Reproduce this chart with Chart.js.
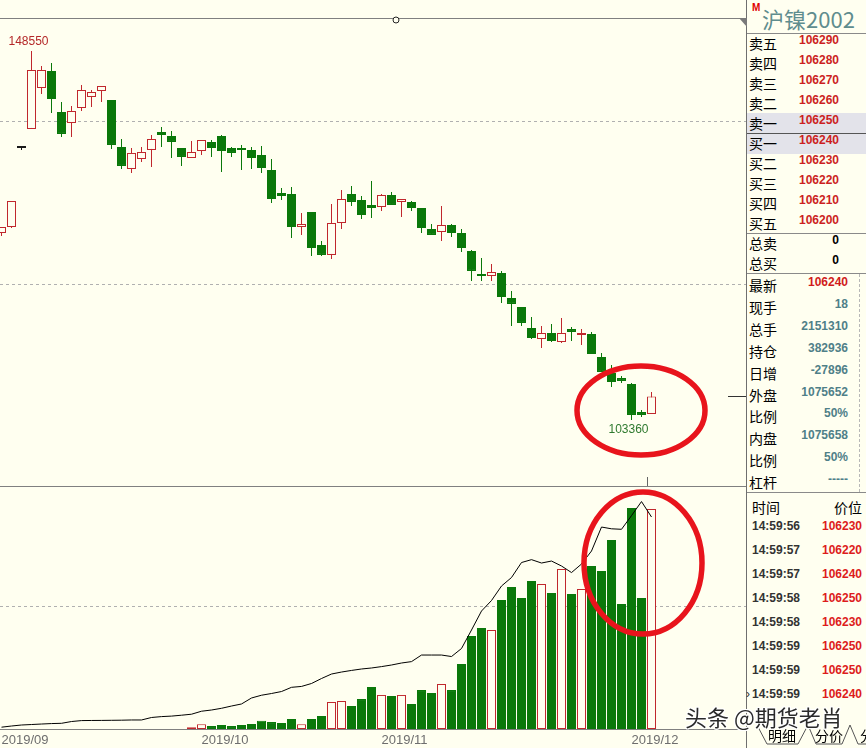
<!DOCTYPE html>
<html><head><meta charset="utf-8">
<script src="https://cdn.jsdelivr.net/npm/chart.js@4.4.1/dist/chart.umd.min.js"></script>
<style>
html,body{margin:0;padding:0;background:#fffff0;width:866px;height:748px;overflow:hidden;position:relative;}
canvas{position:absolute;left:0;}
#c1{top:0;}
#c2{top:487px;}
.t{position:absolute;height:20px;line-height:20px;white-space:nowrap;}
.lab{left:749px;font:14px "Noto Sans CJK SC",sans-serif;color:#000;}
.num{font:bold 12px "Liberation Sans",Arial,sans-serif;text-align:right;}
.hl{position:absolute;left:747px;width:119px;height:1px;background:#8a8a8a;}
#panel{position:absolute;left:746px;top:0;width:1px;height:748px;background:#6f6f6f;}
#wm{position:absolute;left:685px;top:700px;font:22px "Noto Sans CJK SC",sans-serif;color:#2b2b2b;line-height:32px;white-space:nowrap;
 text-shadow:1px 1px 0 #fff,-1px -1px 0 #fff,1px -1px 0 #fff,-1px 1px 0 #fff,0 1px 0 #fff,0 -1px 0 #fff,1px 0 0 #fff,-1px 0 0 #fff;z-index:5;}
svg{position:absolute;left:0;top:0;}
</style></head>
<body>
<canvas id="c1" width="746" height="487"></canvas>
<canvas id="c2" width="746" height="261"></canvas>
<div id="panel"></div>
<div id="side"></div>
<svg width="866" height="748" viewBox="0 0 866 748">
 <circle cx="396" cy="20" r="3" fill="#fffff0" stroke="#222" stroke-width="1"/>
 <polygon points="739,18 747,18 747,27" fill="#7a7a7a"/>
 <line x1="647.5" y1="477" x2="647.5" y2="486" stroke="#666" stroke-width="1"/>
 <ellipse cx="641" cy="410.5" rx="64" ry="44.5" fill="none" stroke="#e8141c" stroke-width="5.5"/>
 <ellipse cx="643" cy="563" rx="59" ry="71" fill="none" stroke="#e8141c" stroke-width="5.5"/>
 <path d="M757,725 L767,744 L798,744 L808,725" fill="none" stroke="#555" stroke-width="1"/>
 <path d="M808,725 L816,744 L842,744 L850,725" fill="none" stroke="#555" stroke-width="1"/>
 <path d="M850,725 L858,744 L880,744" fill="none" stroke="#555" stroke-width="1"/>
 <text x="782" y="741" font-family="Noto Sans CJK SC" font-size="14" text-anchor="middle" fill="#000">明细</text>
 <text x="829" y="741" font-family="Noto Sans CJK SC" font-size="14" text-anchor="middle" fill="#000">分价</text>
 <text x="860" y="741" font-family="Noto Sans CJK SC" font-size="14" fill="#000">分</text>
</svg>
<div id="wm">头条 @期货老肖</div>
<script>
// ---------- data ----------
const openP = [126260,126990,136670,139000,144020,146100,141080,139730,141570,142920,
 143650,142550,136790,134100,135320,136430,138630,138140,136670,135440,
 136300,137410,138140,136670,136670,136430,135810,133980,131160,131040,
 126990,128830,124790,123570,127480,131040,130300,129690,129440,130910,
 130060,130060,129320,126750,126380,127240,126260,124060,121240,120990,
 121360,118300,117200,114630,113280,114010,112910,114500,113770,113890,
 111070,109110,108500,107770,104340,104090];
const highP = [126990,130180,136670,148550,146710,147080,142300,141810,144390,143770,
 144260,142550,137770,136670,136790,138260,139240,138750,136670,137530,
 137650,137650,138260,136790,137040,136790,136920,135320,131770,131890,
 128710,128830,125280,129810,131530,132020,130790,132630,131040,131280,
 130420,130180,129320,127360,129570,127360,126750,124180,123200,122460,
 121610,119160,117200,115970,114870,115120,115850,114750,114500,114140,
 111560,110090,108750,107890,104580,106790];
const lowP = [125890,126870,136430,139000,143280,140960,138020,138020,141200,141690,
 142300,136550,134100,133610,134960,134340,136790,135440,134470,135440,
 135810,135570,133730,135570,133980,134100,133610,129930,130300,125650,
 126020,123440,123440,123080,126750,129570,127970,128100,128950,129690,
 128220,128950,126260,126020,125280,125770,123930,120380,120380,120380,
 117690,114870,114870,113280,112180,112910,112790,113030,112540,111440,
 109240,107400,107890,103360,103720,104090];
const closeP = [126990,130180,136670,146220,146220,142670,138390,141200,143770,143530,
 144260,137040,134470,136060,136180,137770,138260,137410,135570,136180,
 137650,136670,136300,136060,136430,135440,134220,130420,130790,126990,
 127360,124420,123570,127480,130420,130060,128460,129320,130910,129690,
 130420,129320,126870,126020,127240,126260,124420,121610,120990,121480,
 118420,117570,115240,113400,114010,113030,114010,114140,113890,111440,
 109240,108010,108140,103970,103970,106240];
const volume = [0,0,0,0,0,0,0,0,0,0,
 0,0,0,0,0,0,0,0,0,17000,
 46000,29000,39000,29000,39000,49000,81000,68000,59000,98000,
 46000,98000,127000,264000,274000,225000,293000,411000,333000,323000,
 333000,245000,381000,352000,440000,381000,636000,910000,988000,968000,
 1262000,1389000,1281000,1447000,1418000,1330000,1565000,1320000,1369000,1594000,
 1545000,1848000,1223000,2161000,1281000,2151310];
const openInterest = [3300,5400,7200,8100,9000,9800,10300,13500,15200,15400,
 15500,15700,15900,16300,16300,20800,22400,23300,24900,26700,
 32100,34300,37400,41500,45200,56000,61000,64100,67700,75300,
 76900,82200,91200,99300,102900,105800,108400,110200,112700,115600,
 119200,121700,133600,133600,133600,130900,145400,178800,213100,232100,
 258300,273600,300700,305900,299800,303400,294400,282600,298000,321500,
 364800,361600,360700,385400,410832,382936];
const monthLabels = ['2019/09','2019/10','2019/11','2019/12'];
const monthStartIndex = [0,20,38,63];
const priceGrid = [120000,140000];
const volumeGrid = [1200000];

const bookLabels = ['卖五','卖四','卖三','卖二','卖一','买一','买二','买三','买四','买五'];
const bookPrices = ['106290','106280','106270','106260','106250','106240','106230','106220','106210','106200'];
const totalLabels = ['总卖','总买'];
const totalValues = ['0','0'];
const statLabels = ['最新','现手','总手','持仓','日增','外盘','比例','内盘','比例','杠杆'];
const statValues = ['106240','18','2151310','382936','-27896','1075652','50%','1075658','50%','-----'];
const tradeTimes = ['14:59:56','14:59:57','14:59:57','14:59:58','14:59:58','14:59:59','14:59:59','14:59:59'];
const tradePrices = ['106230','106220','106240','106250','106230','106250','106250','106240'];

// ---------- styles ----------
const BG='#fffff0', UP='#c0282d', DOWN='#0a780a', FLAT='#1a1a1a';
const dir = i => closeP[i]>openP[i]?1:(closeP[i]<openP[i]?-1:0);
const bodyFill = c => {const d=dir(c.dataIndex);return d>0?BG:(d<0?DOWN:FLAT);};
const lineCol = c => {const d=dir(c.dataIndex);return d>0?UP:(d<0?DOWN:FLAT);};
const idx = openP.map((_,i)=>i);
const X_MIN=-0.15, X_MAX=74.45;
const fixX = s => {s.min=X_MIN; s.max=X_MAX;};
const makeX = () => ({type:'linear',min:X_MIN,max:X_MAX,offset:false,bounds:'data',display:false,
  afterDataLimits:fixX,afterBuildTicks:fixX});

const pricePlugin = {
  id:'pricePanel',
  beforeDatasetsDraw(chart){
    const {ctx,chartArea:a,scales:{y}}=chart;
    ctx.save();ctx.strokeStyle='#b0b0b0';ctx.lineWidth=1;ctx.setLineDash([3,3]);
    priceGrid.forEach(v=>{const py=Math.round(y.getPixelForValue(v))+0.5;ctx.beginPath();ctx.moveTo(a.left,py);ctx.lineTo(a.right,py);ctx.stroke();});
    ctx.restore();
  },
  afterDatasetsDraw(chart){
    const {ctx,chartArea:a,scales:{x,y}}=chart;
    ctx.save();
    ctx.strokeStyle='#808080';ctx.lineWidth=1;
    [a.top+0.5,a.bottom+0.5].forEach(py=>{ctx.beginPath();ctx.moveTo(0,py);ctx.lineTo(chart.width,py);ctx.stroke();});
    let hi=0,lo=0;
    highP.forEach((v,i)=>{if(v>highP[hi])hi=i;});
    lowP.forEach((v,i)=>{if(v<lowP[lo])lo=i;});
    ctx.font='12px "Liberation Sans", Arial, sans-serif';ctx.textAlign='center';ctx.textBaseline='middle';
    ctx.fillStyle='#b42828';ctx.fillText(String(highP[hi]),x.getPixelForValue(hi)-3,y.getPixelForValue(highP[hi])-9);
    ctx.fillStyle='#2f7a2f';ctx.fillText(String(lowP[lo]),x.getPixelForValue(lo)-3,y.getPixelForValue(lowP[lo])+10);
    const last=closeP.length-1;const py=Math.round(y.getPixelForValue(closeP[last]))+0.5;
    ctx.strokeStyle='#333';ctx.beginPath();ctx.moveTo(728,py);ctx.lineTo(chart.width,py);ctx.stroke();
    ctx.restore();
  }
};

new Chart(document.getElementById('c1'),{
  type:'bar',
  data:{datasets:[
    {label:'wick',data:idx.map(i=>({x:i,y:[lowP[i],highP[i]]})),barThickness:1,backgroundColor:lineCol,borderWidth:0,grouped:false,order:1,inflateAmount:0},
    {label:'body',data:idx.map(i=>({x:i,y:[openP[i],closeP[i]]})),barThickness:9,backgroundColor:bodyFill,borderColor:lineCol,borderWidth:1,borderSkipped:false,minBarLength:2,grouped:false,order:0,inflateAmount:0}
  ]},
  options:{responsive:false,animation:false,events:[],
    layout:{padding:{top:18,bottom:1,left:0,right:0}},
    plugins:{legend:{display:false},tooltip:{enabled:false}},
    scales:{x:makeX(),y:{min:95270,max:152590,display:false}}},
  plugins:[pricePlugin]
});

const volPlugin = {
  id:'volPanel',
  beforeDatasetsDraw(chart){
    const {ctx,chartArea:a,scales:{y}}=chart;
    ctx.save();ctx.strokeStyle='#b0b0b0';ctx.lineWidth=1;ctx.setLineDash([3,3]);
    volumeGrid.forEach(v=>{const py=Math.round(y.getPixelForValue(v))+0.5;ctx.beginPath();ctx.moveTo(a.left,py);ctx.lineTo(a.right,py);ctx.stroke();});
    ctx.restore();
  },
  afterDatasetsDraw(chart){
    const {ctx,chartArea:a,scales:{x}}=chart;
    ctx.save();ctx.strokeStyle='#808080';ctx.lineWidth=1;
    ctx.beginPath();ctx.moveTo(0,a.bottom+0.5);ctx.lineTo(chart.width,a.bottom+0.5);ctx.stroke();
    ctx.font='13px "Liberation Sans", Arial, sans-serif';ctx.fillStyle='#6e6e6e';ctx.textAlign='left';ctx.textBaseline='middle';
    monthLabels.forEach((t,k)=>ctx.fillText(t,x.getPixelForValue(monthStartIndex[k]),a.bottom+11));
    ctx.restore();
  }
};

new Chart(document.getElementById('c2'),{
  type:'bar',
  data:{datasets:[
    {type:'line',label:'持仓',data:idx.map(i=>({x:i,y:openInterest[i]})),yAxisID:'yo',borderColor:'#000',borderWidth:1,pointRadius:0,tension:0,fill:false,order:0},
    {label:'成交量',data:idx.map(i=>({x:i,y:volume[i]})),yAxisID:'y',barThickness:9,backgroundColor:bodyFill,borderColor:lineCol,borderWidth:1,borderSkipped:false,grouped:false,order:1,inflateAmount:0}
  ]},
  options:{responsive:false,animation:false,events:[],
    layout:{padding:{top:0,bottom:19,left:0,right:0}},
    plugins:{legend:{display:false},tooltip:{enabled:false}},
    scales:{x:makeX(),y:{min:0,max:2366760,display:false},yo:{min:0,max:437125,display:false,position:'right'}}},
  plugins:[volPlugin]
});

// ---------- side panel ----------
const side=document.getElementById('side');
function add(cls,txt,styles){const d=document.createElement('div');d.className='t '+cls;d.textContent=txt;Object.assign(d.style,styles);side.appendChild(d);return d;}
function hline(top,color){const d=document.createElement('div');d.className='hl';d.style.top=top+'px';if(color)d.style.background=color;side.appendChild(d);}
[[113,'#e3e3ea'],[134,'#e3e3ea']].forEach(([t,c])=>{const d=document.createElement('div');Object.assign(d.style,{position:'absolute',left:'747px',top:t+'px',width:'119px',height:'20px',background:c});side.appendChild(d);});
hline(133,'#555');
add('', 'M',{left:'752px',top:'2px',font:'bold 10px "Liberation Sans",Arial',color:'#e00000'});
add('', '沪镍2002',{left:'762px',top:'2px',height:'30px',lineHeight:'30px',font:'22px "Noto Sans CJK SC",sans-serif',color:'#5f8d8e'});
hline(33);
bookLabels.forEach((l,k)=>{const c=43+20*k;add('lab',l,{top:(c-10)+'px'});add('num',bookPrices[k],{top:(c-10)+'px',right:'27px',color:'#cc1f1f'});});
hline(233);
totalLabels.forEach((l,k)=>{const c=243+20*k;add('lab',l,{top:(c-10)+'px'});add('num',totalValues[k],{top:(c-10)+'px',right:'27px',color:'#000'});});
hline(273);
statLabels.forEach((l,k)=>{const c=285+21.9*k;add('lab',l,{top:(c-10)+'px'});add('num',statValues[k],{top:(c-10)+'px',right:'18px',color:k===0?'#d01c1c':'#4f8088'});});
(()=>{const d=document.createElement('div');Object.assign(d.style,{position:'absolute',left:'859px',top:'274px',width:'0',height:'218px',borderLeft:'1px dashed #b8b8b8'});side.appendChild(d);})();
hline(492);
add('lab','时间',{top:'497px',left:'752px'});
add('',  '价位',{top:'497px',right:'4px',font:'14px "Noto Sans CJK SC",sans-serif',color:'#000'});
tradeTimes.forEach((t,k)=>{const c=529+24*k;add('num',t,{top:(c-10)+'px',left:'752px',textAlign:'left',color:'#333'});add('num',tradePrices[k],{top:(c-10)+'px',right:'4px',color:'#dd1c1c'});});
add('', '›',{top:'687px',left:'746px',font:'12px "Liberation Sans"',color:'#333'});
</script>
</body></html>
